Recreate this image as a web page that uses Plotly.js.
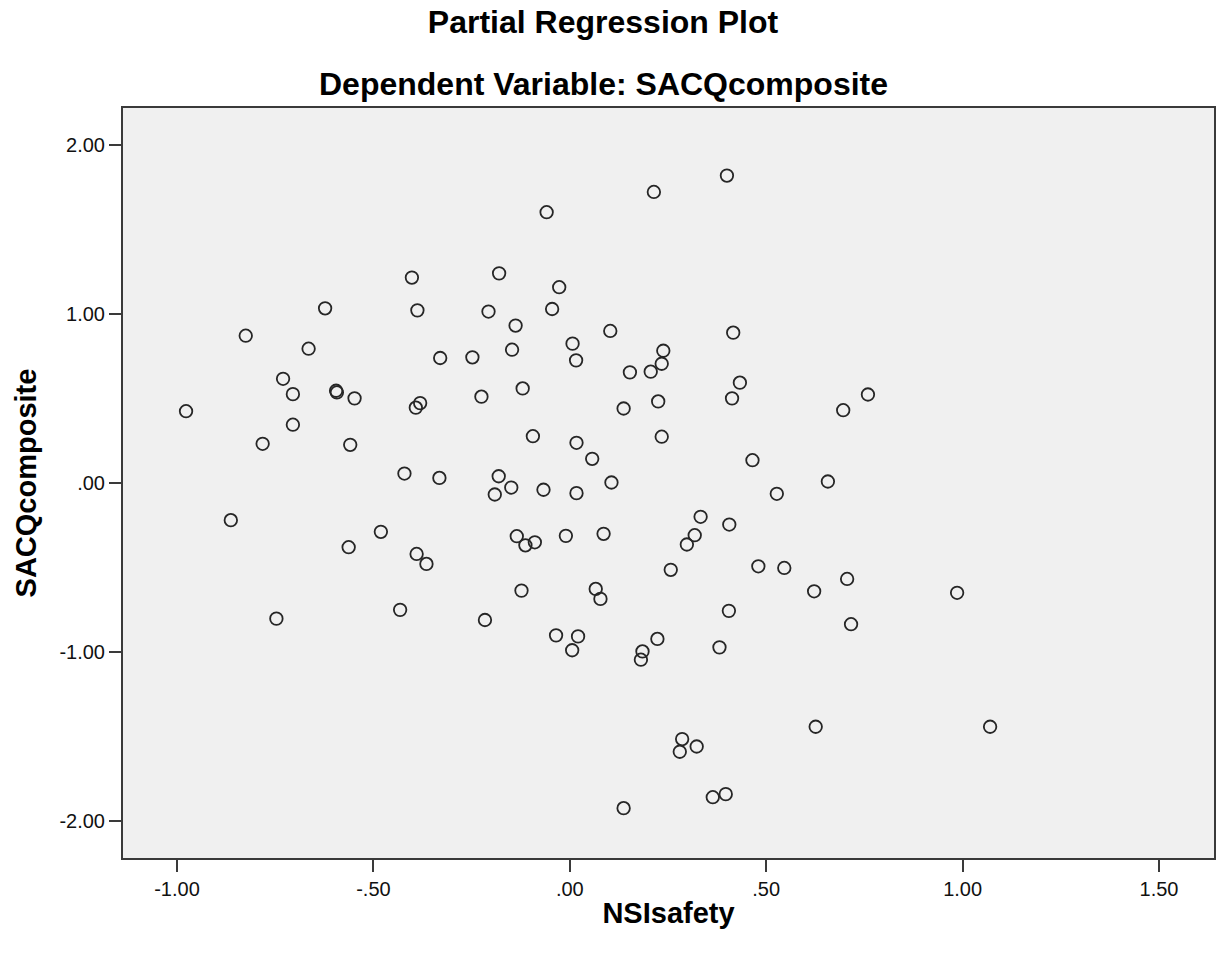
<!DOCTYPE html>
<html>
<head>
<meta charset="utf-8">
<script src="https://cdn.plot.ly/plotly-3.0.1.min.js"></script>
<style>
  html, body { margin: 0; padding: 0; background: #ffffff; }
  #chart { width: 1217px; height: 955px; }
</style>
</head>
<body>
<div id="chart"></div>
<script>
// ---- Data ----
const nsiSafety = [
  0.400, 0.214, -0.059, -0.402, -0.180, -0.027, -0.623, -0.388, -0.207, -0.045,
  -0.138, -0.825, 0.103, 0.416, -0.665, 0.007, -0.330, -0.248, -0.147, 0.238,
  0.016, 0.234, 0.153, 0.206, -0.730, 0.433, -0.595, -0.593, -0.705, -0.548,
  -0.120, 0.759, -0.977, -0.381, -0.392, -0.225, 0.413, 0.225, 0.696, 0.137,
  -0.705, -0.094, -0.782, -0.559, 0.017, 0.234, 0.057, 0.465, -0.421, -0.332,
  -0.181, -0.149, -0.067, -0.191, 0.017, 0.106, 0.657, 0.527, -0.863, 0.333,
  0.406, -0.481, -0.135, -0.010, 0.086, 0.318, 0.298, -0.113, -0.089, -0.563,
  -0.390, -0.365, 0.257, 0.480, 0.546, 0.706, 0.066, 0.078, -0.123, 0.622,
  0.986, -0.432, 0.405, 0.716, -0.747, -0.216, -0.035, 0.021, 0.223, 0.381,
  0.185, 0.181, 0.006, 1.070, 0.626, 0.286, 0.323, 0.280, 0.364, 0.397, 0.137
];
const sacqComposite = [
  1.820, 1.723, 1.603, 1.216, 1.241, 1.159, 1.034, 1.022, 1.015, 1.030,
  0.932, 0.872, 0.900, 0.890, 0.795, 0.825, 0.740, 0.744, 0.789, 0.783,
  0.726, 0.706, 0.655, 0.659, 0.617, 0.594, 0.546, 0.536, 0.526, 0.501,
  0.560, 0.524, 0.425, 0.473, 0.446, 0.511, 0.501, 0.483, 0.431, 0.441,
  0.345, 0.277, 0.232, 0.226, 0.238, 0.274, 0.143, 0.135, 0.056, 0.030,
  0.040, -0.027, -0.040, -0.068, -0.060, 0.003, 0.009, -0.064, -0.220, -0.200,
  -0.246, -0.289, -0.315, -0.313, -0.301, -0.309, -0.364, -0.369, -0.351, -0.380,
  -0.420, -0.479, -0.514, -0.493, -0.503, -0.568, -0.627, -0.686, -0.637, -0.641,
  -0.650, -0.751, -0.757, -0.836, -0.803, -0.811, -0.902, -0.908, -0.923, -0.973,
  -0.997, -1.046, -0.990, -1.443, -1.443, -1.516, -1.560, -1.591, -1.860, -1.842, -1.925
];
const xTickVals = [-1.0, -0.5, 0.0, 0.5, 1.0, 1.5];
const xTickText = ["-1.00", "-.50", ".00", ".50", "1.00", "1.50"];
const yTickVals = [-2.0, -1.0, 0.0, 1.0, 2.0];
const yTickText = ["-2.00", "-1.00", ".00", "1.00", "2.00"];
const titleLine1 = "Partial Regression Plot";
const titleLine2 = "Dependent Variable: SACQcomposite";
const xLabel = "NSIsafety";
const yLabel = "SACQcomposite";

const FONT = "Liberation Sans, Arial, sans-serif";

const trace = {
  type: "scatter",
  mode: "markers",
  x: nsiSafety,
  y: sacqComposite,
  marker: {
    symbol: "circle-open",
    size: 12.5,
    color: "#262626",
    line: { width: 1.8 }
  },
  hoverinfo: "x+y",
  showlegend: false
};

const axisCommon = {
  showgrid: false,
  zeroline: false,
  showline: true,
  linecolor: "#3a3a3a",
  linewidth: 2,
  mirror: true,
  ticks: "outside",
  ticklen: 12,
  tickwidth: 2,
  tickcolor: "#3a3a3a",
  tickfont: { family: FONT, size: 20, color: "#111" },
  tickmode: "array"
};

const layout = {
  width: 1217,
  height: 955,
  paper_bgcolor: "#ffffff",
  plot_bgcolor: "#f0f0f0",
  margin: { l: 123, r: 3, t: 108, b: 97 },
  title: {
    text: "<b>" + titleLine1 + "</b>",
    font: { family: FONT, size: 32, color: "#000" },
    xref: "container", x: 0.4955, xanchor: "center",
    yref: "container", y: 0.977, yanchor: "middle"
  },
  annotations: [{
    text: "<b>" + titleLine2 + "</b>",
    font: { family: FONT, size: 32, color: "#000" },
    xref: "paper", x: 0.44, xanchor: "center",
    yref: "paper", y: 1.032, yanchor: "middle",
    showarrow: false
  }],
  xaxis: Object.assign({}, axisCommon, {
    range: [-1.1375, 1.640],
    tickvals: xTickVals,
    ticktext: xTickText,
    ticklabelstandoff: 0,
    title: { text: "<b>" + xLabel + "</b>", font: { family: FONT, size: 29, color: "#000" }, standoff: 4 }
  }),
  yaxis: Object.assign({}, axisCommon, {
    range: [-2.22, 2.22],
    tickvals: yTickVals,
    ticktext: yTickText,
    title: { text: "<b>" + yLabel + "</b>", font: { family: FONT, size: 29, color: "#000" }, standoff: 14 }
  })
};

Plotly.newPlot("chart", [trace], layout, { displayModeBar: false, staticPlot: true });
</script>
</body>
</html>
